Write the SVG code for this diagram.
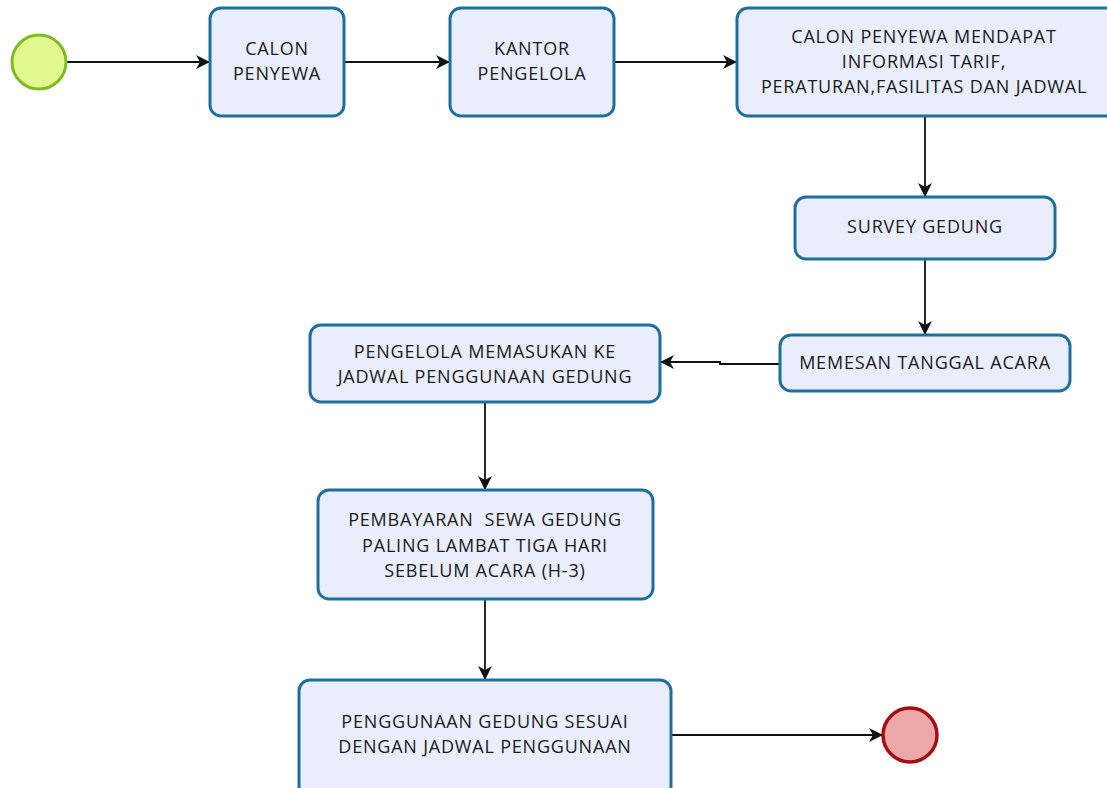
<svg xmlns="http://www.w3.org/2000/svg" width="1107" height="788" viewBox="0 0 1107 788">
<defs>
<style>
.box{fill:#e9edfc;stroke:#1f6f9e;stroke-width:3}
.t{font-family:"Open Sans","Noto Sans","DejaVu Sans",sans-serif;font-size:18px;letter-spacing:0.8px;fill:#1a1a1a;text-anchor:middle;white-space:pre}
.c{fill:none;stroke:#111;stroke-width:1.8}
</style>
<marker id="ah" viewBox="0 0 14 14" refX="13" refY="7" markerWidth="14" markerHeight="14" markerUnits="userSpaceOnUse" orient="auto">
<path d="M0,0 L14,7 L0,14 L4,7 Z" fill="#111"/>
</marker>
</defs>
<rect width="1107" height="788" fill="#fff"/>
<g id="connectors">
<path class="c" d="M66,62 L209,62" marker-end="url(#ah)"/>
<path class="c" d="M344,62 L449,62" marker-end="url(#ah)"/>
<path class="c" d="M614,62 L736,62" marker-end="url(#ah)"/>
<path class="c" d="M925,116 L925,196" marker-end="url(#ah)"/>
<path class="c" d="M925,259 L925,334" marker-end="url(#ah)"/>
<path class="c" d="M780,364 L720,364 L720,362 L661,362" marker-end="url(#ah)"/>
<path class="c" d="M485,402 L485,489" marker-end="url(#ah)"/>
<path class="c" d="M485,599 L485,679" marker-end="url(#ah)"/>
<path class="c" d="M671,735 L882,735" marker-end="url(#ah)"/>
</g>
<g id="start"><circle cx="39" cy="62" r="27" fill="#e2f98f" stroke="#7fbb25" stroke-width="3"/></g>
<g id="n1"><rect class="box" x="210" y="8" width="134" height="108" rx="11"/>
<text class="t" x="277" y="55">CALON</text><text class="t" x="277" y="80">PENYEWA</text></g>
<g id="n2"><rect class="box" x="450" y="8" width="164" height="108" rx="11"/>
<text class="t" x="532" y="55">KANTOR</text><text class="t" x="532" y="80">PENGELOLA</text></g>
<g id="n3"><rect class="box" x="737" y="8" width="380" height="108" rx="11"/>
<text class="t" x="924" y="43">CALON PENYEWA MENDAPAT</text><text class="t" x="924" y="68">INFORMASI TARIF,</text><text class="t" x="924" y="93">PERATURAN,FASILITAS DAN JADWAL</text></g>
<g id="n4"><rect class="box" x="795" y="197" width="260" height="62" rx="11"/>
<text class="t" x="925" y="233">SURVEY GEDUNG</text></g>
<g id="n5"><rect class="box" x="780" y="335" width="290" height="56" rx="11"/>
<text class="t" x="925" y="369">MEMESAN TANGGAL ACARA</text></g>
<g id="n6"><rect class="box" x="310" y="325" width="350" height="77" rx="11"/>
<text class="t" x="485" y="358">PENGELOLA MEMASUKAN KE</text><text class="t" x="485" y="383">JADWAL PENGGUNAAN GEDUNG</text></g>
<g id="n7"><rect class="box" x="318" y="490" width="335" height="109" rx="11"/>
<text class="t" x="485" y="526" xml:space="preserve">PEMBAYARAN  SEWA GEDUNG</text><text class="t" x="485" y="552">PALING LAMBAT TIGA HARI</text><text class="t" x="485" y="577">SEBELUM ACARA (H-3)</text></g>
<g id="n8"><rect class="box" x="299" y="680" width="372" height="118" rx="11"/>
<text class="t" x="485" y="728">PENGGUNAAN GEDUNG SESUAI</text><text class="t" x="485" y="753">DENGAN JADWAL PENGGUNAAN</text></g>
<g id="end"><circle cx="910" cy="735" r="27" fill="#eca7a8" stroke="#a30f12" stroke-width="3.5"/></g>
</svg>
